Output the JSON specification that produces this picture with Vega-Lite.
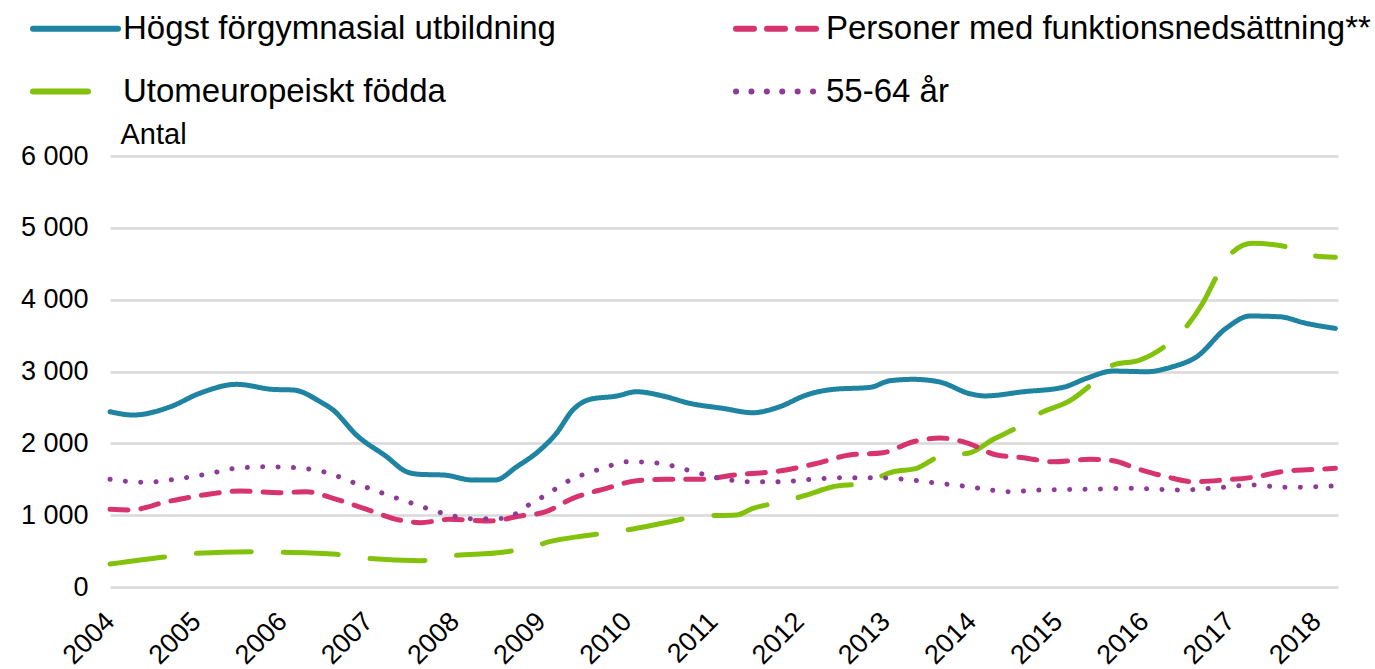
{
  "$schema": "https://vega.github.io/schema/vega-lite/v6.json",
  "autosize": {"type": "none"},
  "width": 1228,
  "height": 431,
  "padding": {"left": 110, "top": 156, "right": 37, "bottom": 82},
  "background": "white",
  "config": {
    "view": {"stroke": null},
    "font": "Liberation Sans"
  },
  "data": {
    "values": [
      {"s": "Högst förgymnasial utbildning", "t": 2004.0, "v": 2440},
      {"s": "Högst förgymnasial utbildning", "t": 2004.27, "v": 2394},
      {"s": "Högst förgymnasial utbildning", "t": 2004.7, "v": 2509},
      {"s": "Högst förgymnasial utbildning", "t": 2005.04, "v": 2696},
      {"s": "Högst förgymnasial utbildning", "t": 2005.47, "v": 2821},
      {"s": "Högst förgymnasial utbildning", "t": 2005.89, "v": 2751},
      {"s": "Högst förgymnasial utbildning", "t": 2006.13, "v": 2742},
      {"s": "Högst förgymnasial utbildning", "t": 2006.44, "v": 2579},
      {"s": "Högst förgymnasial utbildning", "t": 2006.59, "v": 2463},
      {"s": "Högst förgymnasial utbildning", "t": 2006.86, "v": 2115},
      {"s": "Högst förgymnasial utbildning", "t": 2007.21, "v": 1814},
      {"s": "Högst förgymnasial utbildning", "t": 2007.44, "v": 1605},
      {"s": "Högst förgymnasial utbildning", "t": 2007.6, "v": 1568},
      {"s": "Högst förgymnasial utbildning", "t": 2007.87, "v": 1559},
      {"s": "Högst förgymnasial utbildning", "t": 2008.21, "v": 1489},
      {"s": "Högst förgymnasial utbildning", "t": 2008.47, "v": 1489},
      {"s": "Högst förgymnasial utbildning", "t": 2008.72, "v": 1674},
      {"s": "Högst förgymnasial utbildning", "t": 2008.99, "v": 1907},
      {"s": "Högst förgymnasial utbildning", "t": 2009.18, "v": 2139},
      {"s": "Högst förgymnasial utbildning", "t": 2009.37, "v": 2463},
      {"s": "Högst förgymnasial utbildning", "t": 2009.57, "v": 2612},
      {"s": "Högst förgymnasial utbildning", "t": 2009.88, "v": 2658},
      {"s": "Högst förgymnasial utbildning", "t": 2010.11, "v": 2718},
      {"s": "Högst förgymnasial utbildning", "t": 2010.42, "v": 2658},
      {"s": "Högst förgymnasial utbildning", "t": 2010.73, "v": 2556},
      {"s": "Högst förgymnasial utbildning", "t": 2011.11, "v": 2487},
      {"s": "Högst förgymnasial utbildning", "t": 2011.46, "v": 2426},
      {"s": "Högst förgymnasial utbildning", "t": 2011.77, "v": 2509},
      {"s": "Högst förgymnasial utbildning", "t": 2012.08, "v": 2672},
      {"s": "Högst förgymnasial utbildning", "t": 2012.39, "v": 2751},
      {"s": "Högst förgymnasial utbildning", "t": 2012.82, "v": 2779},
      {"s": "Högst förgymnasial utbildning", "t": 2013.05, "v": 2871},
      {"s": "Högst förgymnasial utbildning", "t": 2013.32, "v": 2891},
      {"s": "Högst förgymnasial utbildning", "t": 2013.63, "v": 2853},
      {"s": "Högst förgymnasial utbildning", "t": 2013.98, "v": 2690},
      {"s": "Högst förgymnasial utbildning", "t": 2014.15, "v": 2660},
      {"s": "Högst förgymnasial utbildning", "t": 2014.6, "v": 2718},
      {"s": "Högst förgymnasial utbildning", "t": 2015.06, "v": 2779},
      {"s": "Högst förgymnasial utbildning", "t": 2015.33, "v": 2904},
      {"s": "Högst förgymnasial utbildning", "t": 2015.64, "v": 3006},
      {"s": "Högst förgymnasial utbildning", "t": 2016.03, "v": 2997},
      {"s": "Högst förgymnasial utbildning", "t": 2016.33, "v": 3066},
      {"s": "Högst förgymnasial utbildning", "t": 2016.61, "v": 3205},
      {"s": "Högst förgymnasial utbildning", "t": 2016.95, "v": 3600},
      {"s": "Högst förgymnasial utbildning", "t": 2017.23, "v": 3772},
      {"s": "Högst förgymnasial utbildning", "t": 2017.57, "v": 3762},
      {"s": "Högst förgymnasial utbildning", "t": 2017.88, "v": 3670},
      {"s": "Högst förgymnasial utbildning", "t": 2018.22, "v": 3600},

      {"s": "Utomeuropeiskt födda", "t": 2004.0, "v": 320},
      {"s": "Utomeuropeiskt födda", "t": 2004.66, "v": 422},
      {"s": "Utomeuropeiskt födda", "t": 2005.01, "v": 469},
      {"s": "Utomeuropeiskt födda", "t": 2005.62, "v": 491},
      {"s": "Utomeuropeiskt födda", "t": 2005.99, "v": 483},
      {"s": "Utomeuropeiskt födda", "t": 2006.63, "v": 455},
      {"s": "Utomeuropeiskt födda", "t": 2006.98, "v": 399},
      {"s": "Utomeuropeiskt födda", "t": 2007.6, "v": 366},
      {"s": "Utomeuropeiskt födda", "t": 2007.94, "v": 431},
      {"s": "Utomeuropeiskt födda", "t": 2008.56, "v": 483},
      {"s": "Utomeuropeiskt födda", "t": 2008.91, "v": 561},
      {"s": "Utomeuropeiskt födda", "t": 2009.1, "v": 631},
      {"s": "Utomeuropeiskt födda", "t": 2009.49, "v": 710},
      {"s": "Utomeuropeiskt födda", "t": 2009.88, "v": 770},
      {"s": "Utomeuropeiskt födda", "t": 2010.5, "v": 909},
      {"s": "Utomeuropeiskt födda", "t": 2010.84, "v": 988},
      {"s": "Utomeuropeiskt födda", "t": 2011.27, "v": 1002},
      {"s": "Utomeuropeiskt födda", "t": 2011.46, "v": 1095},
      {"s": "Utomeuropeiskt födda", "t": 2011.81, "v": 1187},
      {"s": "Utomeuropeiskt födda", "t": 2012.08, "v": 1280},
      {"s": "Utomeuropeiskt födda", "t": 2012.39, "v": 1396},
      {"s": "Utomeuropeiskt födda", "t": 2012.74, "v": 1443},
      {"s": "Utomeuropeiskt födda", "t": 2013.09, "v": 1605},
      {"s": "Utomeuropeiskt födda", "t": 2013.36, "v": 1652},
      {"s": "Utomeuropeiskt födda", "t": 2013.67, "v": 1837},
      {"s": "Utomeuropeiskt födda", "t": 2013.96, "v": 1861},
      {"s": "Utomeuropeiskt födda", "t": 2014.25, "v": 2056},
      {"s": "Utomeuropeiskt födda", "t": 2014.56, "v": 2241},
      {"s": "Utomeuropeiskt födda", "t": 2014.79, "v": 2417},
      {"s": "Utomeuropeiskt födda", "t": 2015.14, "v": 2593},
      {"s": "Utomeuropeiskt födda", "t": 2015.41, "v": 2843},
      {"s": "Utomeuropeiskt födda", "t": 2015.64, "v": 3090},
      {"s": "Utomeuropeiskt födda", "t": 2015.95, "v": 3159},
      {"s": "Utomeuropeiskt födda", "t": 2016.26, "v": 3368},
      {"s": "Utomeuropeiskt födda", "t": 2016.49, "v": 3623},
      {"s": "Utomeuropeiskt födda", "t": 2016.68, "v": 3949},
      {"s": "Utomeuropeiskt födda", "t": 2016.84, "v": 4319},
      {"s": "Utomeuropeiskt födda", "t": 2016.99, "v": 4621},
      {"s": "Utomeuropeiskt födda", "t": 2017.26, "v": 4784},
      {"s": "Utomeuropeiskt födda", "t": 2017.61, "v": 4746},
      {"s": "Utomeuropeiskt födda", "t": 2017.92, "v": 4621},
      {"s": "Utomeuropeiskt födda", "t": 2018.22, "v": 4589},

      {"s": "Personer med funktionsnedsättning**", "t": 2004.0, "v": 1081},
      {"s": "Personer med funktionsnedsättning**", "t": 2004.23, "v": 1072},
      {"s": "Personer med funktionsnedsättning**", "t": 2004.66, "v": 1187},
      {"s": "Personer med funktionsnedsättning**", "t": 2005.08, "v": 1280},
      {"s": "Personer med funktionsnedsättning**", "t": 2005.51, "v": 1336},
      {"s": "Personer med funktionsnedsättning**", "t": 2005.97, "v": 1313},
      {"s": "Personer med funktionsnedsättning**", "t": 2006.28, "v": 1327},
      {"s": "Personer med funktionsnedsättning**", "t": 2006.59, "v": 1234},
      {"s": "Personer med funktionsnedsättning**", "t": 2006.98, "v": 1081},
      {"s": "Personer med funktionsnedsättning**", "t": 2007.36, "v": 932},
      {"s": "Personer med funktionsnedsättning**", "t": 2007.6, "v": 895},
      {"s": "Personer med funktionsnedsättning**", "t": 2007.94, "v": 942},
      {"s": "Personer med funktionsnedsättning**", "t": 2008.41, "v": 919},
      {"s": "Personer med funktionsnedsättning**", "t": 2008.76, "v": 988},
      {"s": "Personer med funktionsnedsättning**", "t": 2009.05, "v": 1045},
      {"s": "Personer med funktionsnedsättning**", "t": 2009.37, "v": 1234},
      {"s": "Personer med funktionsnedsättning**", "t": 2009.76, "v": 1373},
      {"s": "Personer med funktionsnedsättning**", "t": 2010.11, "v": 1479},
      {"s": "Personer med funktionsnedsättning**", "t": 2010.46, "v": 1499},
      {"s": "Personer med funktionsnedsättning**", "t": 2010.84, "v": 1499},
      {"s": "Personer med funktionsnedsättning**", "t": 2011.31, "v": 1568},
      {"s": "Personer med funktionsnedsättning**", "t": 2011.77, "v": 1614},
      {"s": "Personer med funktionsnedsättning**", "t": 2012.2, "v": 1721},
      {"s": "Personer med funktionsnedsättning**", "t": 2012.58, "v": 1837},
      {"s": "Personer med funktionsnedsättning**", "t": 2012.97, "v": 1869},
      {"s": "Personer med funktionsnedsättning**", "t": 2013.32, "v": 2022},
      {"s": "Personer med funktionsnedsättning**", "t": 2013.63, "v": 2075},
      {"s": "Personer med funktionsnedsättning**", "t": 2013.96, "v": 2000},
      {"s": "Personer med funktionsnedsättning**", "t": 2014.29, "v": 1837},
      {"s": "Personer med funktionsnedsättning**", "t": 2014.6, "v": 1800},
      {"s": "Personer med funktionsnedsättning**", "t": 2014.94, "v": 1744},
      {"s": "Personer med funktionsnedsättning**", "t": 2015.37, "v": 1777},
      {"s": "Personer med funktionsnedsättning**", "t": 2015.64, "v": 1758},
      {"s": "Personer med funktionsnedsättning**", "t": 2015.91, "v": 1652},
      {"s": "Personer med funktionsnedsättning**", "t": 2016.26, "v": 1535},
      {"s": "Personer med funktionsnedsättning**", "t": 2016.57, "v": 1466},
      {"s": "Personer med funktionsnedsättning**", "t": 2016.92, "v": 1489},
      {"s": "Personer med funktionsnedsättning**", "t": 2017.26, "v": 1527},
      {"s": "Personer med funktionsnedsättning**", "t": 2017.65, "v": 1614},
      {"s": "Personer med funktionsnedsättning**", "t": 2018.0, "v": 1638},
      {"s": "Personer med funktionsnedsättning**", "t": 2018.22, "v": 1652},

      {"s": "55-64 år", "t": 2004.0, "v": 1499},
      {"s": "55-64 år", "t": 2004.41, "v": 1457},
      {"s": "55-64 år", "t": 2004.75, "v": 1499},
      {"s": "55-64 år", "t": 2005.11, "v": 1568},
      {"s": "55-64 år", "t": 2005.46, "v": 1652},
      {"s": "55-64 år", "t": 2005.82, "v": 1674},
      {"s": "55-64 år", "t": 2006.17, "v": 1660},
      {"s": "55-64 år", "t": 2006.52, "v": 1591},
      {"s": "55-64 år", "t": 2006.85, "v": 1443},
      {"s": "55-64 år", "t": 2007.19, "v": 1294},
      {"s": "55-64 år", "t": 2007.53, "v": 1155},
      {"s": "55-64 år", "t": 2007.87, "v": 1025},
      {"s": "55-64 år", "t": 2008.21, "v": 950},
      {"s": "55-64 år", "t": 2008.56, "v": 955},
      {"s": "55-64 år", "t": 2008.89, "v": 1165},
      {"s": "55-64 år", "t": 2009.04, "v": 1267},
      {"s": "55-64 år", "t": 2009.34, "v": 1489},
      {"s": "55-64 år", "t": 2009.68, "v": 1638},
      {"s": "55-64 år", "t": 2010.02, "v": 1744},
      {"s": "55-64 år", "t": 2010.38, "v": 1721},
      {"s": "55-64 år", "t": 2010.73, "v": 1619},
      {"s": "55-64 år", "t": 2011.08, "v": 1513},
      {"s": "55-64 år", "t": 2011.42, "v": 1466},
      {"s": "55-64 år", "t": 2011.77, "v": 1466},
      {"s": "55-64 år", "t": 2012.14, "v": 1499},
      {"s": "55-64 år", "t": 2012.49, "v": 1521},
      {"s": "55-64 år", "t": 2012.86, "v": 1521},
      {"s": "55-64 år", "t": 2013.2, "v": 1503},
      {"s": "55-64 år", "t": 2013.55, "v": 1452},
      {"s": "55-64 år", "t": 2013.9, "v": 1406},
      {"s": "55-64 år", "t": 2014.09, "v": 1374},
      {"s": "55-64 år", "t": 2014.44, "v": 1327},
      {"s": "55-64 år", "t": 2014.79, "v": 1350},
      {"s": "55-64 år", "t": 2015.33, "v": 1360},
      {"s": "55-64 år", "t": 2015.87, "v": 1374},
      {"s": "55-64 år", "t": 2016.41, "v": 1350},
      {"s": "55-64 år", "t": 2016.92, "v": 1388},
      {"s": "55-64 år", "t": 2017.26, "v": 1420},
      {"s": "55-64 år", "t": 2017.65, "v": 1388},
      {"s": "55-64 år", "t": 2018.2, "v": 1406}
    ]
  },
  "mark": {"type": "line", "strokeWidth": 5, "strokeCap": "round", "strokeJoin": "round", "interpolate": "monotone"},
  "encoding": {
    "x": {
      "field": "t",
      "type": "quantitative",
      "scale": {"domain": [2004, 2018.25], "nice": false, "zero": false},
      "axis": {
        "title": null,
        "values": [2004, 2005, 2006, 2007, 2008, 2009, 2010, 2011, 2012, 2013, 2014, 2015, 2016, 2017, 2018],
        "format": "d",
        "grid": false,
        "domain": false,
        "ticks": false,
        "labelAngle": -45,
        "labelAlign": "right",
        "labelBaseline": "middle",
        "labelPadding": 30,
        "labelFontSize": 27,
        "labelColor": "black",
        "labelFont": "Liberation Sans",
        "labelOverlap": false
      }
    },
    "y": {
      "field": "v",
      "type": "quantitative",
      "scale": {"domain": [0, 6000], "nice": false},
      "axis": {
        "title": "Antal",
        "titleAngle": 0,
        "titleAlign": "left",
        "titleBaseline": "alphabetic",
        "titleX": 10,
        "titleY": -13,
        "titleFontSize": 29,
        "titleFontWeight": "normal",
        "titleColor": "black",
        "titleFont": "Liberation Sans",
        "values": [0, 1000, 2000, 3000, 4000, 5000, 6000],
        "labelExpr": "replace(format(datum.value, ','), ',', ' ')",
        "labelFontSize": 27,
        "labelColor": "black",
        "labelFont": "Liberation Sans",
        "labelPadding": 22,
        "domain": false,
        "ticks": false,
        "gridColor": "#d9d9d9",
        "gridWidth": 2.5
      }
    },
    "color": {
      "field": "s",
      "type": "nominal",
      "scale": {
        "domain": ["Högst förgymnasial utbildning", "Utomeuropeiskt födda", "Personer med funktionsnedsättning**", "55-64 år"],
        "range": ["#1E84A2", "#83C20C", "#D6336F", "#8E3A98"]
      },
      "legend": {
        "orient": "none",
        "legendX": -80,
        "legendY": -173,
        "columns": 2,
        "title": null,
        "symbolType": "stroke",
        "symbolSize": 7225,
        "symbolStrokeWidth": 6,
        "labelFontSize": 33,
        "labelFont": "Liberation Sans",
        "labelColor": "black",
        "labelLimit": 0,
        "labelOffset": 2,
        "columnPadding": 168,
        "rowPadding": -37,
        "encode": {"symbols": {"update": {"strokeCap": {"value": "round"}}}}
      }
    },
    "strokeDash": {
      "field": "s",
      "type": "nominal",
      "scale": {
        "domain": ["Högst förgymnasial utbildning", "Utomeuropeiskt födda", "Personer med funktionsnedsättning**", "55-64 år"],
        "range": [[1, 0], [55, 32], [18, 13], [0.1, 15.3]]
      },
      "legend": {
        "orient": "none",
        "legendX": -80,
        "legendY": -173,
        "columns": 2,
        "title": null,
        "symbolType": "stroke",
        "symbolSize": 7225,
        "symbolStrokeWidth": 6,
        "labelFontSize": 33,
        "labelFont": "Liberation Sans",
        "labelColor": "black",
        "labelLimit": 0,
        "labelOffset": 2,
        "columnPadding": 168,
        "rowPadding": -37,
        "encode": {"symbols": {"update": {"strokeCap": {"value": "round"}}}}
      }
    }
  }
}
